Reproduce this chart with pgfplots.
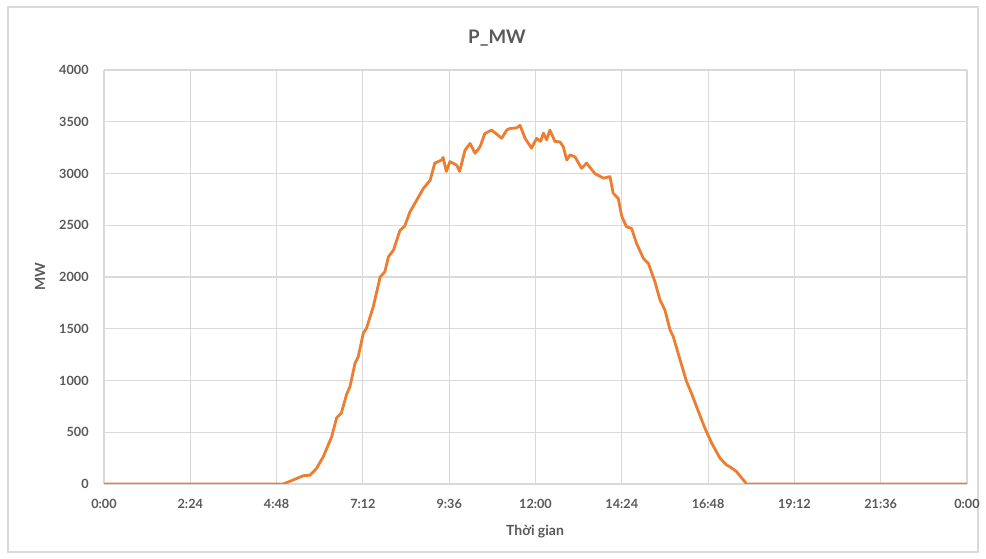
\documentclass[border=0pt]{standalone}
\usepackage{pgfplots}
\pgfplotsset{compat=1.18}
\usepackage{fontspec}
\setmainfont{Lato}
\definecolor{gridc}{HTML}{D9D9D9}
\definecolor{txt}{HTML}{595959}
\definecolor{lineor}{HTML}{ED7D31}
\begin{document}
\begin{tikzpicture}[x=0.75pt,y=0.75pt]
\path[use as bounding box] (0,0) rectangle (986,559);
\draw[gridc, line width=0.9pt] (8,7) rectangle (978,552);
\begin{axis}[
  at={(104*0.75pt,75*0.75pt)}, anchor=south west,
  scale only axis, width=863*0.75pt, height=414*0.75pt,
  xmin=0, xmax=24, ymin=0, ymax=4000,
  xtick={0,2.4,4.8,7.2,9.6,12,14.4,16.8,19.2,21.6,24},
  xticklabels={0:00,2:24,4:48,7:12,9:36,12:00,14:24,16:48,19:12,21:36,0:00},
  ytick={0,500,...,4000},
  grid=major, major grid style={gridc, line width=0.8pt},
  axis line style={draw=none},
  tick style={draw=none},
  ticklabel style={font=\fontsize{9.5}{11}\selectfont\bfseries, text=txt},
  yticklabel style={xshift=-8pt},
  xticklabel style={yshift=-8pt},
  /pgf/number format/assume math mode=true,
  yticklabel={\pgfmathprintnumber[fixed,1000 sep={}]{\tick}},
]
\addplot[lineor, line width=2.1pt, line join=round] coordinates {
(0,0) (4.98,0) (5.2,30) (5.54,80) (5.73,85) (5.91,150) (6.10,265) (6.33,455)
(6.47,640) (6.6,685) (6.75,870) (6.84,940) (6.98,1165) (7.07,1230) (7.21,1455)
(7.30,1505) (7.49,1715) (7.68,2000) (7.81,2050) (7.91,2195) (8.05,2260) (8.23,2450)
(8.36,2490) (8.51,2630) (8.70,2745) (8.88,2855) (9.07,2935) (9.20,3100) (9.39,3130)
(9.43,3155) (9.52,3020) (9.62,3115) (9.81,3080) (9.89,3020) (10.04,3225) (10.18,3290)
(10.32,3195) (10.46,3260) (10.59,3385) (10.78,3420) (11.06,3340) (11.20,3420)
(11.29,3435) (11.47,3440) (11.57,3465) (11.71,3340) (11.89,3245) (12.03,3340)
(12.14,3310) (12.22,3390) (12.31,3325) (12.40,3420) (12.54,3310) (12.68,3305)
(12.77,3260) (12.87,3130) (12.96,3180) (13.10,3160) (13.28,3050) (13.42,3100)
(13.65,3000) (13.89,2955) (14.07,2970) (14.16,2810) (14.30,2760) (14.40,2585)
(14.53,2485) (14.67,2470) (14.81,2325) (15.00,2180) (15.14,2130) (15.32,1955)
(15.46,1780) (15.60,1680) (15.74,1490) (15.83,1425) (16.02,1200) (16.20,990)
(16.34,875) (16.53,700) (16.71,540) (16.90,395) (17.13,250) (17.31,185) (17.41,165)
(17.59,120) (17.87,0) (24,0)
};
\end{axis}
\node[text=txt, font=\fontsize{14}{16}\selectfont\bfseries] at (497,521) {P\_MW};
\node[text=txt, font=\fontsize{10.5}{12}\selectfont\bfseries, rotate=90] at (40,282) {MW};
\node[text=txt, font=\fontsize{10.5}{12}\selectfont\bfseries] at (535,27) {Thời gian};
\end{tikzpicture}
\end{document}
